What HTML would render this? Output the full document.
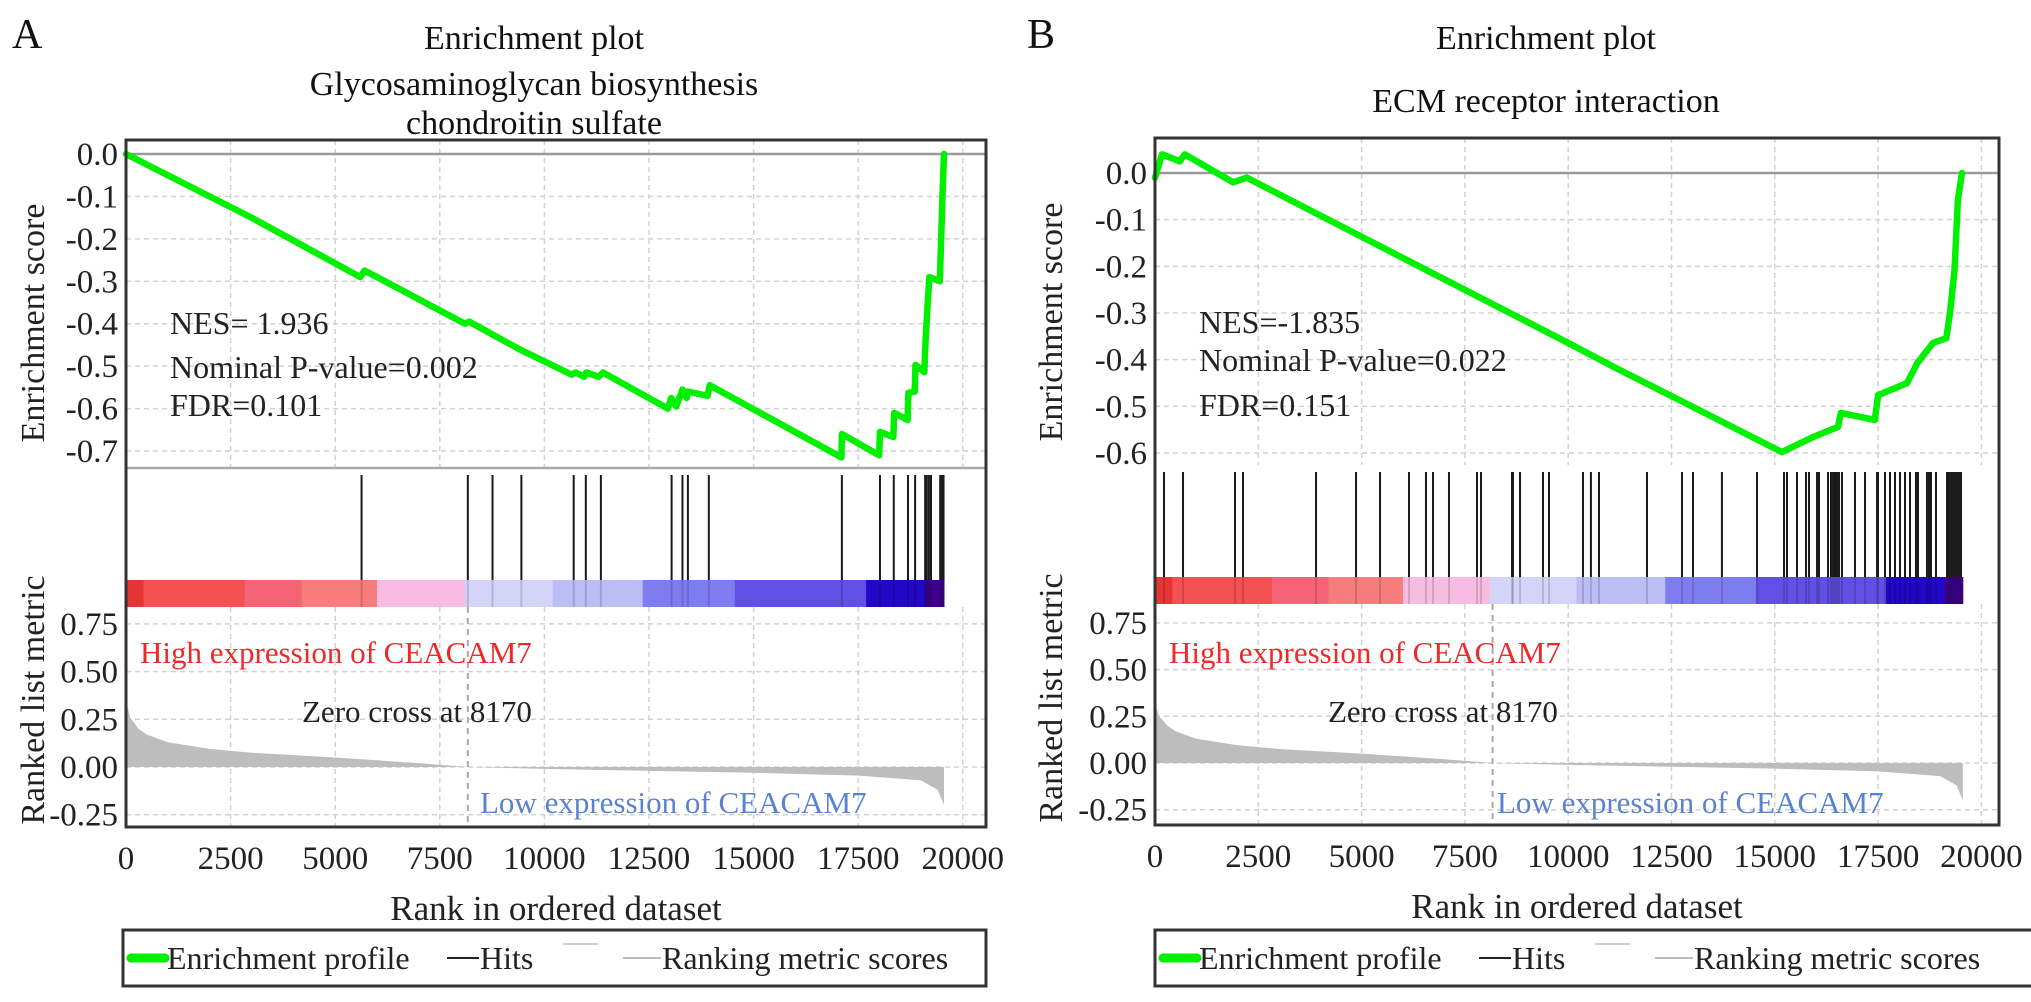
<!DOCTYPE html>
<html><head><meta charset="utf-8">
<style>
html,body{margin:0;padding:0;background:#fff;}
svg{display:block;font-family:"Liberation Serif",serif;}
</style></head>
<body>
<svg id="fig" width="2031" height="1002" viewBox="0 0 2031 1002" xmlns="http://www.w3.org/2000/svg"></svg>
<script>
// ---------- data ----------
const xTicks = [0,2500,5000,7500,10000,12500,15000,17500,20000];
const metricTicks = [0.75,0.50,0.25,0.00,-0.25];
const esTicksA = [0.0,-0.1,-0.2,-0.3,-0.4,-0.5,-0.6,-0.7];
const esTicksB = [0.0,-0.1,-0.2,-0.3,-0.4,-0.5,-0.6];
const totalRanks = 19550;
const zeroCross = 8170;

const esRanksA = [0,1000,3000,5600,5700,6000,8100,8200,9400,10650,10750,10950,11000,11300,11400,12950,13030,13150,13300,13400,13430,13900,13950,17100,17110,18000,18020,18340,18360,18680,18700,18850,18870,19080,19110,19150,19200,19450,19480,19510,19550];
const esValuesA = [0,-0.05,-0.15,-0.29,-0.275,-0.29,-0.40,-0.395,-0.46,-0.52,-0.515,-0.525,-0.515,-0.525,-0.515,-0.60,-0.575,-0.595,-0.555,-0.575,-0.56,-0.57,-0.545,-0.715,-0.66,-0.71,-0.655,-0.667,-0.61,-0.627,-0.563,-0.56,-0.497,-0.514,-0.44,-0.37,-0.29,-0.30,-0.21,-0.11,0.0];
const hitsA = [5630,8170,8760,9450,10700,10990,11350,13040,13300,13430,13930,17110,18020,18350,18690,18860,19100,19140,19190,19240,19460,19500,19540];

const esRanksB = [0,170,600,720,1890,2220,9800,11200,12700,15170,15920,16530,16600,17420,17500,18200,18450,18830,19150,19240,19350,19430,19530];
const esValuesB = [-0.01,0.04,0.025,0.04,-0.02,-0.01,-0.355,-0.42,-0.487,-0.598,-0.566,-0.544,-0.514,-0.529,-0.476,-0.45,-0.407,-0.364,-0.354,-0.30,-0.207,-0.058,0.0];
const hitsB = [218,678,1936,2130,3897,4865,5446,6147,6558,6728,7115,7793,7890,8640,8664,8834,9390,9535,10358,10550,10745,11907,12754,13020,13720,14570,15223,15295,15537,15755,15828,16021,16070,16288,16360,16409,16457,16505,16554,16626,16941,17183,17474,17498,17667,17788,17909,18030,18151,18272,18417,18466,18683,18732,18780,18901,19168,19216,19265,19313,19361,19410,19458,19506];

const metricRanks = [0,100,300,500,1000,2000,3000,5000,7000,8170,10000,12500,15000,17500,19000,19400,19550];
const metricValuesA = [0.35,0.26,0.2,0.17,0.13,0.095,0.075,0.05,0.02,0.0,-0.01,-0.02,-0.03,-0.045,-0.07,-0.12,-0.2];
const metricValuesB = [0.32,0.25,0.2,0.17,0.13,0.095,0.075,0.05,0.02,0.0,-0.01,-0.02,-0.03,-0.045,-0.07,-0.12,-0.2];

const colorBreaks = [0,420,2835,4200,6000,8100,10200,12350,14550,17690,19110,19550];
const colorFills = ["#e53535","#f45252","#f56476","#f77d7d","#f8bce2","#d4d4f9","#bdbdf5","#7d7df0","#6150e3","#2208c6","#3f0090"];

// ---------- helpers ----------
const NS = "http://www.w3.org/2000/svg";
const svg = document.getElementById("fig");
function mk(tag, attrs, parent){
  const e = document.createElementNS(NS, tag);
  for (const k in attrs) e.setAttribute(k, attrs[k]);
  (parent||svg).appendChild(e);
  return e;
}
function txt(s, attrs, parent){ const t = mk("text", attrs, parent); t.textContent = s; return t; }

function panel(cfg){
  const g = mk("g", {});
  
  
  const L = cfg.left, R = cfg.right, T = cfg.top, B = cfg.bottom;
  const xs = r => L + r * cfg.pxPerRank;
  const esY = v => cfg.es0 - v * cfg.esPer1;
  const mY = v => cfg.m0 - v * cfg.mPer1;

  const lt = txt(cfg.letter, {x:cfg.letterX, y:48, "font-size":42, fill:"#111"}, g);
  
  
  cfg.titles.forEach((t,i)=>{
    const e = txt(t, {x:cfg.titleX, y:cfg.titleYs[i], "font-size":34, "text-anchor":"middle", fill:"#111"}, g);
    
    
  });

  const grid = mk("g", {stroke:"#d2d2d2", "stroke-width":1.5, "stroke-dasharray":"5,4", fill:"none"}, g);
  
  
  xTicks.forEach(t=>{ if(t>0){ const x=xs(t); if(x<R){
    mk("line",{x1:x,x2:x,y1:T,y2:cfg.esBottom},grid);
    mk("line",{x1:x,x2:x,y1:cfg.barBottom,y2:B},grid);
  }}});
  cfg.esTicks.forEach(v=>{ if(v!==0) mk("line",{x1:L,x2:R,y1:esY(v),y2:esY(v)},grid); });
  metricTicks.forEach(v=>{ mk("line",{x1:L,x2:R,y1:mY(v),y2:mY(v)},grid); });

  const zl = mk("line",{x1:L,x2:R,y1:esY(0),y2:esY(0),stroke:"#999","stroke-width":2.5},g);
  
  
  if (cfg.esSep){
    const sep = mk("line",{x1:L,x2:R,y1:cfg.esBottom,y2:cfg.esBottom,stroke:"#aaa","stroke-width":2.5},g);
    
    
  }

  let d = "M"+xs(metricRanks[0])+","+mY(0);
  metricRanks.forEach((r,i)=>{ d += " L"+xs(r)+","+mY(cfg.metric[i]); });
  d += " L"+xs(metricRanks[metricRanks.length-1])+","+mY(0)+" Z";
  const area = mk("path",{d:d, fill:"#bdbdbd", stroke:"none"},g);
  
  

  const zc = mk("line",{x1:xs(zeroCross),x2:xs(zeroCross),y1:cfg.barBottom,y2:B,stroke:"#aaa","stroke-width":2,"stroke-dasharray":"6,5"},g);
  
  

  const bar = mk("g",{},g);
  
  
  for(let i=0;i<colorFills.length;i++){
    const x1=xs(colorBreaks[i]), x2=xs(colorBreaks[i+1]);
    const r = mk("rect",{x:x1,y:cfg.barTop,width:x2-x1+0.5,height:cfg.barBottom-cfg.barTop,fill:colorFills[i]},bar);
    
    
  }

  const hg = mk("g",{stroke:"#1a1a1a","stroke-width":2},g);
  
  
  cfg.hits.forEach(r=>{
    const l = mk("line",{x1:xs(r),x2:xs(r),y1:cfg.hitTop,y2:cfg.barTop},hg);
    
    
    const l2 = mk("line",{x1:xs(r),x2:xs(r),y1:cfg.barTop,y2:cfg.barBottom,stroke:"rgba(0,0,0,0.15)"},hg);
    
    
  });

  const pts = cfg.esRanks.map((r,i)=> xs(r)+","+esY(cfg.esValues[i])).join(" ");
  const pl = mk("polyline",{points:pts, fill:"none", stroke:"#00f000","stroke-width":6.5,"stroke-linejoin":"round","stroke-linecap":"round"},g);
  
  

  const fr = mk("rect",{x:L,y:T,width:R-L,height:B-T,fill:"none",stroke:"#333","stroke-width":3},g);
  
  

  cfg.esTicks.forEach(v=>{
    const e = txt(v.toFixed(1), {x:L-8, y:esY(v)+11, "font-size":33, "text-anchor":"end", fill:"#222"}, g);
    
    
  });
  metricTicks.forEach(v=>{
    const e = txt(v.toFixed(2), {x:L-8, y:mY(v)+11, "font-size":33, "text-anchor":"end", fill:"#222"}, g);
    
    
  });
  xTicks.forEach(t=>{
    const e = txt(String(t), {x:xs(t), y:B+42, "font-size":33, "text-anchor":"middle", fill:"#222"}, g);
    
    
  });

  const yt1 = txt("Enrichment score", {x:0,y:0,"font-size":34,"text-anchor":"middle",fill:"#222",transform:`translate(${cfg.yTitleX},${cfg.esTitleY}) rotate(-90)`}, g);
  
  
  const yt2 = txt("Ranked list metric", {x:0,y:0,"font-size":34,"text-anchor":"middle",fill:"#222",transform:`translate(${cfg.yTitleX},${cfg.mTitleY}) rotate(-90)`}, g);
  
  
  const xt = txt("Rank in ordered dataset", {x:(L+R)/2, y:B+93, "font-size":35, "text-anchor":"middle", fill:"#222"}, g);
  
  

  cfg.stats.forEach((s,i)=>{
    const e = txt(s, {x:L+44, y:cfg.statYs[i]+11, "font-size":32, fill:"#222"}, g);
    
    
  });
  const hi = txt("High expression of CEACAM7",{x:L+14,y:663,"font-size":31,fill:"#f02828"},g);
  
  
  const zt = txt("Zero cross at 8170",{x:cfg.zeroTextX,y:722,"font-size":31,fill:"#222"},g);
  
  
  const lo = txt("Low expression of CEACAM7",{x:cfg.lowTextX,y:813,"font-size":31,fill:"#5a82d2"},g);
  
  

  const lg = mk("g",{},g);
  
  
  mk("rect",{x:cfg.legX,y:930,width:cfg.legW,height:56,fill:"none",stroke:"#333","stroke-width":3},lg);
  const ox = cfg.legX;
  const e1 = mk("line",{x1:ox+8,x2:ox+42,y1:958,y2:958,stroke:"#00f000","stroke-width":9,"stroke-linecap":"round"},lg);
  
  
  const t1 = txt("Enrichment profile",{x:ox+44,y:969,"font-size":32,fill:"#222"},lg);
  
  
  mk("line",{x1:ox+324,x2:ox+356,y1:958,y2:958,stroke:"#222","stroke-width":2},lg);
  const t2 = txt("Hits",{x:ox+357,y:969,"font-size":32,fill:"#222"},lg);
  
  
  mk("line",{x1:ox+440,x2:ox+475,y1:944,y2:944,stroke:"#ccc","stroke-width":2},lg);
  mk("line",{x1:ox+500,x2:ox+538,y1:958,y2:958,stroke:"#bbb","stroke-width":2},lg);
  const t3 = txt("Ranking metric scores",{x:ox+539,y:969,"font-size":32,fill:"#222"},lg);
  
  
}

panel({name:"panel-a", letter:"A", letterX:12, titles:["Enrichment plot","Glycosaminoglycan biosynthesis","chondroitin sulfate"], titleX:534, titleYs:[49,95,134],
  left:126, right:986, top:140, bottom:827, pxPerRank:104.6/2500,
  es0:154, esPer1:424.3, esBottom:468, esSep:true, hitTop:475, barTop:580, barBottom:607,
  m0:767, mPer1:190.8, esTicks:esTicksA, esRanks:esRanksA, esValues:esValuesA, hits:hitsA, metric:metricValuesA,
  yTitleX:44, esTitleY:323, mTitleY:700, stats:["NES= 1.936","Nominal P-value=0.002","FDR=0.101"], statYs:[323,367,405],
  zeroTextX:302, lowTextX:480, legX:123, legW:863});

panel({name:"panel-b", letter:"B", letterX:1027, titles:["Enrichment plot","ECM receptor interaction"], titleX:1546, titleYs:[49,112],
  left:1155, right:1999, top:138, bottom:825, pxPerRank:103.3/2500,
  es0:173, esPer1:466.7, esBottom:465, esSep:false, hitTop:472, barTop:577, barBottom:604,
  m0:763, mPer1:186.8, esTicks:esTicksB, esRanks:esRanksB, esValues:esValuesB, hits:hitsB, metric:metricValuesB,
  yTitleX:1062, esTitleY:322, mTitleY:698, stats:["NES=-1.835","Nominal P-value=0.022","FDR=0.151"], statYs:[322,360,405],
  zeroTextX:1328, lowTextX:1497, legX:1155, legW:900});
</script>
</body></html>
